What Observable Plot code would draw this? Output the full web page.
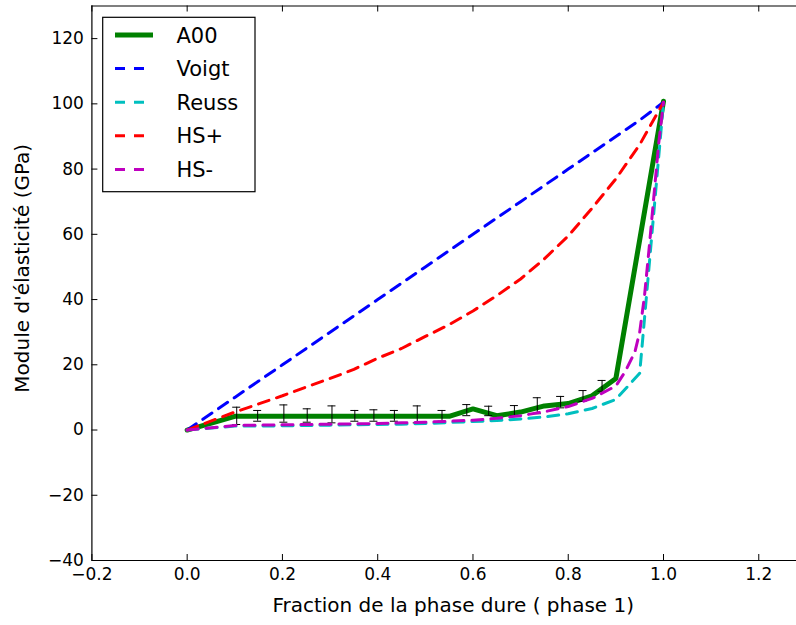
<!DOCTYPE html>
<html>
<head>
<meta charset="utf-8">
<script src="https://cdn.jsdelivr.net/npm/d3@7"></script>
<script src="https://cdn.jsdelivr.net/npm/@observablehq/plot@0.6"></script>
<style>
  html, body { margin: 0; padding: 0; background: white; }
  #chart { position: relative; width: 796px; height: 625px; }
  #legend { position: absolute; left: 0; top: 0; pointer-events: none; }
</style>
</head>
<body>
<div id="chart"></div>
<script>
// ---- data ----
const seriesNames = ["A00", "Voigt", "Reuss", "HS+", "HS-"];
const seriesColors = ["#008000", "#0000ff", "#00bfbf", "#ff0000", "#bf00bf"];

// A00 (measured, mean)
const a00X = [0, 0.1, 0.15, 0.2, 0.25, 0.3, 0.35, 0.4, 0.45, 0.5, 0.55, 0.6, 0.65, 0.7, 0.75, 0.8, 0.85, 0.9, 1.0];
const a00Y = [0, 4.2, 4.2, 4.2, 4.2, 4.2, 4.2, 4.2, 4.2, 4.2, 4.2, 6.5, 4.4, 5.5, 7.4, 8.1, 10.5, 15.8, 100.8];

// A00 error bars (measured fraction, low, high)
const errX    = [0.104, 0.148, 0.203, 0.252, 0.304, 0.352, 0.392, 0.435, 0.483, 0.535, 0.587, 0.633, 0.687, 0.735, 0.784, 0.831, 0.871];
const errLow  = [1.7, 2.7, 2.4, 2.4, 2.2, 2.7, 2.7, 2.7, 2.2, 2.7, 4.4, 4.4, 4.4, 5.0, 6.8, 8.8, 11.9];
const errHigh = [7.0, 6.0, 7.7, 6.5, 7.4, 6.0, 6.2, 6.0, 7.4, 6.0, 7.8, 7.3, 7.5, 9.9, 10.3, 12.1, 15.2];

// Bounds
const gridX  = [0, 0.1, 0.15, 0.2, 0.25, 0.3, 0.35, 0.4, 0.45, 0.5, 0.55, 0.6, 0.65, 0.7, 0.75, 0.8, 0.85, 0.9, 0.95, 1.0];
const voigtY = [0, 10, 15, 20, 25, 30, 35, 40, 45, 50, 55, 60, 65, 70, 75, 80, 85, 90, 95, 100.5];
const reussY = [0, 1.2, 1.2, 1.3, 1.4, 1.5, 1.6, 1.7, 1.8, 2.0, 2.3, 2.6, 2.9, 3.4, 4.0, 5.0, 6.6, 9.4, 17.4, 100.5];
const hsPlusY = [0, 5.5, 8.0, 10.5, 13.2, 15.8, 18.6, 22.0, 25.0, 28.7, 32.3, 36.5, 41.2, 46.3, 52.5, 59.5, 68.0, 77.0, 87.5, 100.5];
const hsMinusX = [0, 0.1, 0.15, 0.2, 0.25, 0.3, 0.35, 0.4, 0.45, 0.5, 0.55, 0.6, 0.65, 0.7, 0.75, 0.8, 0.85, 0.9, 0.92, 0.94, 0.95, 0.96, 0.97, 0.98, 0.99, 1.0];
const hsMinusY = [0, 1.4, 1.5, 1.6, 1.7, 1.8, 1.9, 2.0, 2.2, 2.4, 2.7, 3.0, 3.6, 4.4, 5.6, 7.2, 9.7, 13.5, 18, 24, 30, 41, 56, 72, 88, 100.5];

// ticks
const xTicks = [-0.2, 0, 0.2, 0.4, 0.6, 0.8, 1.0, 1.2];
const yTicks = [-40, -20, 0, 20, 40, 60, 80, 100, 120];
const xLabel = "Fraction de la phase dure ( phase 1)";
const yLabel = "Module d'élasticité (GPa)";

// ---- layout ----
const W = 796, H = 625;
const mL = 91.4, mR = 0, mT = 5.5, mB = 65;
const frameH = H - mT - mB, frameW = W - mL - mR;
const tickLen = 6;
const minus = v => (v < 0 ? "\u2212" : "") + Math.abs(v);
const fmtX = v => (v < 0 ? "\u2212" : "") + Math.abs(v).toFixed(1);

const pts = (xs, ys) => xs.map((x, i) => ({x, y: ys[i]}));
const dash = "11,8";

const plot = Plot.plot({
  width: W, height: H,
  marginLeft: mL, marginRight: mR, marginTop: mT, marginBottom: mB,
  x: {domain: [-0.2, 1.2792], label: null},
  y: {domain: [-40, 130], label: null},
  style: {fontFamily: "DejaVu Sans", fontSize: "17px", background: "white", color: "black"},
  marks: [
    // series
    Plot.line(pts(a00X, a00Y), {x: "x", y: "y", stroke: seriesColors[0], strokeWidth: 5, strokeLinejoin: "miter"}),
    Plot.ruleX(errX.map((x, i) => ({x, lo: errLow[i], hi: errHigh[i]})), {x: "x", y1: "lo", y2: "hi", stroke: "black", strokeWidth: 1}),
    Plot.ruleY(errX.map((x, i) => ({x, v: errLow[i]})), {y: "v", x1: "x", x2: "x", insetLeft: -4, insetRight: -4, stroke: "black", strokeWidth: 1}),
    Plot.ruleY(errX.map((x, i) => ({x, v: errHigh[i]})), {y: "v", x1: "x", x2: "x", insetLeft: -4, insetRight: -4, stroke: "black", strokeWidth: 1}),
    Plot.line(pts(gridX, voigtY), {x: "x", y: "y", stroke: seriesColors[1], strokeWidth: 3, strokeDasharray: dash}),
    Plot.line(pts(gridX, reussY), {x: "x", y: "y", stroke: seriesColors[2], strokeWidth: 3, strokeDasharray: dash}),
    Plot.line(pts(gridX, hsPlusY), {x: "x", y: "y", stroke: seriesColors[3], strokeWidth: 3, strokeDasharray: dash}),
    Plot.line(pts(hsMinusX, hsMinusY), {x: "x", y: "y", stroke: seriesColors[4], strokeWidth: 3, strokeDasharray: dash}),
    // frame (left, top, bottom)
    Plot.ruleX([-0.2], {stroke: "black", strokeWidth: 1.2}),
    Plot.ruleY([-40], {stroke: "black", strokeWidth: 1.2}),
    Plot.ruleY([130], {stroke: "black", strokeWidth: 1.2}),
    // inward ticks
    Plot.ruleX(xTicks, {x: d => d, insetTop: frameH - tickLen, stroke: "black", strokeWidth: 1}),
    Plot.ruleX(xTicks, {x: d => d, insetBottom: frameH - tickLen, stroke: "black", strokeWidth: 1}),
    Plot.ruleY(yTicks, {y: d => d, insetRight: frameW - tickLen, stroke: "black", strokeWidth: 1}),
    // tick labels
    Plot.axisX({anchor: "bottom", ticks: xTicks, tickFormat: fmtX, tickSize: 0, tickPadding: 7, label: null}),
    Plot.axisY({anchor: "left", ticks: yTicks, tickFormat: minus, tickSize: 0, tickPadding: 8, label: null}),
    // axis titles
    Plot.text([xLabel], {text: d => d, frameAnchor: "bottom", textAnchor: "middle", dx: 9, dy: 51, fontSize: 20, fill: "black"}),
    Plot.text([yLabel], {text: d => d, frameAnchor: "left", textAnchor: "middle", dx: -69, dy: -15, rotate: -90, fontSize: 20, fill: "black"})
  ]
});

const chart = document.getElementById("chart");
chart.appendChild(plot);

// ---- legend overlay ----
const leg = d3.select(chart).append("svg")
  .attr("id", "legend").attr("width", W).attr("height", H);
leg.append("rect")
  .attr("x", 102.7).attr("y", 17.3).attr("width", 152.3).attr("height", 174.4)
  .attr("fill", "white").attr("stroke", "black").attr("stroke-width", 1.2);
const rowY0 = 35, rowStep = 33.6;
seriesNames.forEach((name, i) => {
  const y = rowY0 + i * rowStep;
  leg.append("line")
    .attr("x1", 115).attr("x2", 153).attr("y1", y).attr("y2", y)
    .attr("stroke", seriesColors[i])
    .attr("stroke-width", i === 0 ? 5 : 3)
    .attr("stroke-dasharray", i === 0 ? null : "10,9");
  leg.append("text")
    .attr("x", 176.5).attr("y", y)
    .attr("dy", "0.36em")
    .attr("font-family", "DejaVu Sans").attr("font-size", 21)
    .attr("fill", "black")
    .text(name);
});
</script>
</body>
</html>
